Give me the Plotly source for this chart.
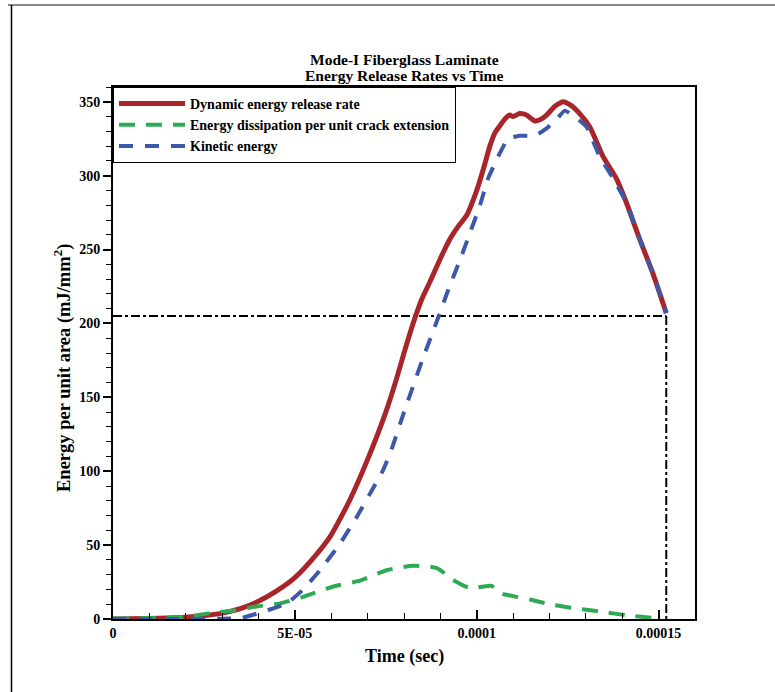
import plotly.graph_objects as go

# ---- data (time in seconds, energy in mJ/mm^2) ----
t_red = [0, 1e-5, 1.5e-5, 2e-5, 2.5e-5, 3e-5, 3.5e-5, 4e-5, 4.5e-5, 5e-5, 5.5e-5, 6e-5,
         6.5e-5, 7e-5, 7.5e-5, 7.8e-5, 8.0e-5, 8.25e-5, 8.5e-5, 8.71e-5, 9.0e-5, 9.26e-5,
         9.5e-5, 9.72e-5, 1.0e-4, 1.02e-4, 1.036e-4, 1.05e-4, 1.064e-4, 1.08e-4, 1.091e-4,
         1.10e-4, 1.118e-4, 1.137e-4, 1.16e-4, 1.175e-4, 1.192e-4, 1.215e-4, 1.237e-4,
         1.256e-4, 1.283e-4, 1.311e-4, 1.347e-4, 1.384e-4, 1.411e-4, 1.448e-4, 1.484e-4, 1.521e-4]
g_dynamic = [0, 0.3, 0.7, 1.2, 2.2, 4, 7, 12, 19, 28, 41, 57,
             80, 108, 140, 163, 180, 200, 217, 228, 244, 257,
             266, 273, 290, 306, 320, 329, 334, 339, 341,
             340, 342, 341, 337, 338, 341, 347, 350,
             348, 342, 333, 313, 298, 282, 257, 234, 207]

t_blue = [0, 1e-5, 2e-5, 3e-5, 3.5e-5, 4.14e-5, 4.78e-5, 5.23e-5, 5.69e-5, 6.24e-5, 6.7e-5,
          7.07e-5, 7.43e-5, 7.66e-5, 8.0e-5, 8.5e-5, 8.94e-5, 9.22e-5, 9.54e-5, 9.81e-5,
          1.009e-4, 1.031e-4, 1.059e-4, 1.086e-4, 1.118e-4, 1.16e-4, 1.192e-4, 1.219e-4,
          1.242e-4, 1.274e-4, 1.302e-4, 1.338e-4, 1.375e-4, 1.411e-4, 1.448e-4, 1.484e-4, 1.521e-4]
kinetic = [0, 0, 0, 0.2, 0.5, 5, 10.6, 20, 33, 51, 69,
           85, 101, 115, 140, 175, 204, 223, 243, 261,
           280, 298, 313, 325, 327, 327, 332, 338,
           344, 339, 333, 313, 298, 282, 257, 234, 207]

t_green = [0, 1e-5, 2.03e-5, 2.67e-5, 3.31e-5, 3.95e-5, 4.6e-5, 5.23e-5, 6.06e-5, 6.79e-5,
           7.52e-5, 8.25e-5, 8.9e-5, 9.35e-5, 9.81e-5, 1.018e-4, 1.04e-4, 1.07e-4, 1.1e-4,
           1.15e-4, 1.2e-4, 1.25e-4, 1.34e-4, 1.43e-4, 1.5e-4]
dissipation = [0.3, 0.6, 1.5, 4, 5.7, 8.5, 10.6, 15, 22, 26,
               33, 36, 34.5, 26.5, 21, 22, 22.5, 17, 15.5,
               13, 10, 8, 5, 2, 0.5]

# reference (critical) value and time markers
ref_level = 205
ref_time = 1.521e-4

x_tickvals = [0, 5e-5, 1e-4, 1.5e-4]
x_ticktext = ["0", "5E-05", "0.0001", "0.00015"]

SERIF = "Liberation Serif"
RED = "#A8252A"
GREEN = "#2EAA55"
BLUE = "#3D58A8"

fig = go.Figure()
fig.add_trace(go.Scatter(x=t_red, y=g_dynamic, mode="lines", name="Dynamic energy release rate",
                         line=dict(color=RED, width=5, shape="spline", smoothing=0.5)))
fig.add_trace(go.Scatter(x=t_green, y=dissipation, mode="lines",
                         name="Energy dissipation per unit crack extension",
                         line=dict(color=GREEN, width=4, dash="16px,11px", shape="spline", smoothing=0.6)))
fig.add_trace(go.Scatter(x=t_blue, y=kinetic, mode="lines", name="Kinetic energy",
                         line=dict(color=BLUE, width=4, dash="14px,12px", shape="spline", smoothing=0.4)))

# dash-dot reference lines
fig.add_shape(type="line", xref="x", yref="y", x0=0, x1=ref_time, y0=ref_level, y1=ref_level,
              line=dict(color="black", width=2, dash="dashdot"), layer="below")
fig.add_shape(type="line", xref="x", yref="y", x0=ref_time, x1=ref_time, y0=ref_level, y1=0,
              line=dict(color="black", width=2, dash="dashdot"), layer="below")

# page frame (top and left edges)
PL, PR, PT, PB = 113, 695, 87, 619
W, H = 775, 692
def px_x(px):
    return (px - PL) / (PR - PL)
def px_y(py):
    return (PB - py) / (PB - PT)
fig.add_shape(type="line", xref="paper", yref="paper", x0=px_x(8), x1=px_x(775), y0=px_y(5), y1=px_y(5),
              line=dict(color="#888888", width=2))
fig.add_shape(type="line", xref="paper", yref="paper", x0=px_x(11.5), x1=px_x(11.5), y0=px_y(5), y1=px_y(692),
              line=dict(color="black", width=1.5))

# titles
fig.add_annotation(text="<b>Mode-I Fiberglass Laminate</b>", xref="paper", yref="paper",
                   x=0.5, y=px_y(59), xanchor="center", yanchor="middle", showarrow=False,
                   font=dict(family=SERIF, size=15.5, color="black"))
fig.add_annotation(text="<b>Energy Release Rates vs Time</b>", xref="paper", yref="paper",
                   x=0.5, y=px_y(75), xanchor="center", yanchor="middle", showarrow=False,
                   font=dict(family=SERIF, size=15.5, color="black"))
fig.add_annotation(text="<b>Time (sec)</b>", xref="paper", yref="paper",
                   x=0.5, y=px_y(656), xanchor="center", yanchor="middle", showarrow=False,
                   font=dict(family=SERIF, size=18, color="black"))
fig.add_annotation(text="<b>Energy per unit area (mJ/mm<sup>2</sup>)</b>", xref="paper", yref="paper",
                   x=px_x(62), y=px_y(368), xanchor="center", yanchor="middle", textangle=-90,
                   showarrow=False, font=dict(family=SERIF, size=18.5, color="black"))

axis_common = dict(showline=True, linecolor="black", linewidth=2, mirror=True, showgrid=False,
                   zeroline=False, tickcolor="black", tickwidth=2,
                   tickfont=dict(family=SERIF, size=14, color="black", weight="bold"))
fig.update_xaxes(range=[0, 1.6e-4], tickvals=x_tickvals, ticktext=x_ticktext, ticks="inside", ticklen=9,
                 minor=dict(dtick=1e-5, ticks="inside", ticklen=6, tickcolor="black", tickwidth=1),
                 **axis_common)
fig.update_yaxes(range=[0, 360], dtick=50, tick0=0, ticks="outside", ticklen=8,
                 minor=dict(dtick=10, ticks="outside", ticklen=5, tickcolor="black", tickwidth=1),
                 **axis_common)

fig.update_layout(
    width=W, height=H,
    margin=dict(l=PL, r=W - PR, t=PT, b=H - PB),
    plot_bgcolor="white", paper_bgcolor="white",
    legend=dict(x=0, y=1, xanchor="left", yanchor="top", bgcolor="white",
                bordercolor="black", borderwidth=1, itemwidth=66,
                font=dict(family=SERIF, size=14, color="black", weight="bold"),
                tracegroupgap=0),
)

fig.write_html("out.html")
